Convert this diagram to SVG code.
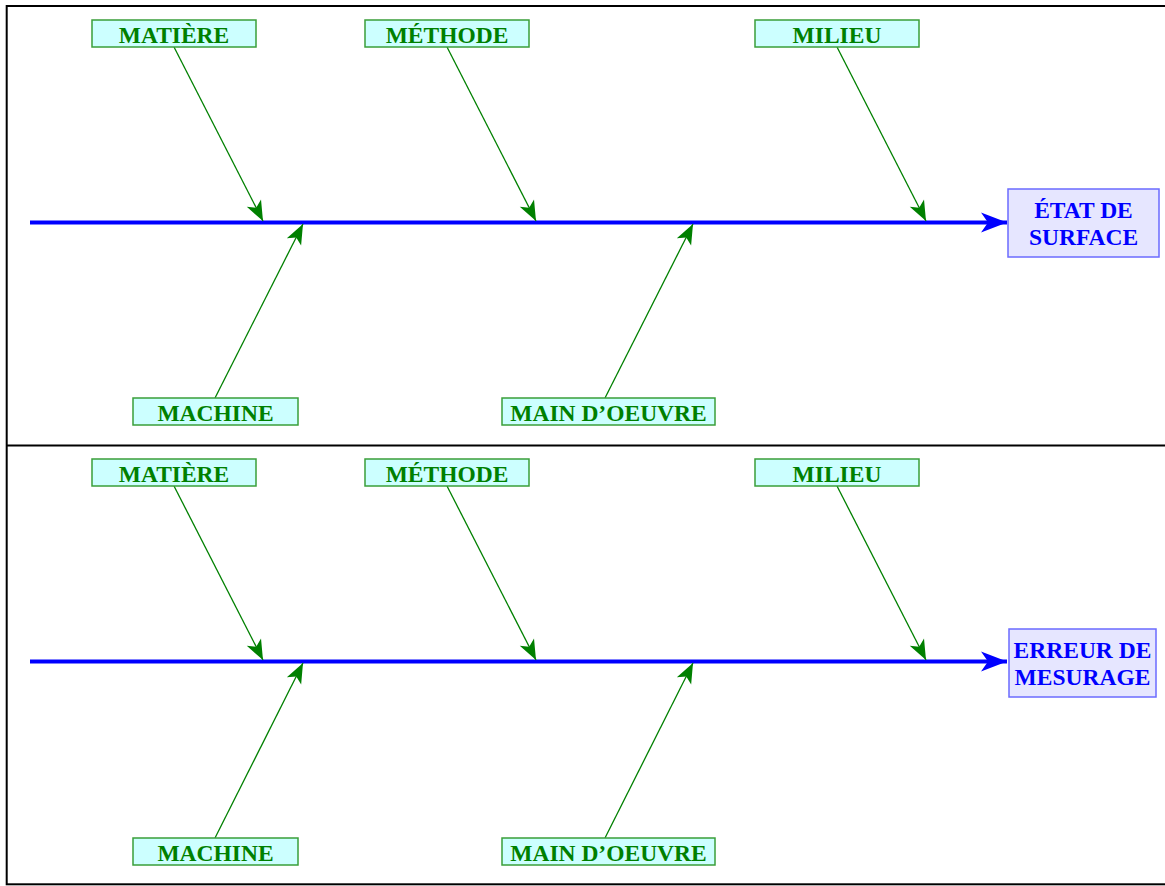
<svg xmlns="http://www.w3.org/2000/svg" width="1165" height="886" viewBox="0 0 1165 886">
<style>
.cause rect{fill:#ccffff;stroke:#3a9f3a;stroke-width:1.5}
.cause text{font-family:"Liberation Serif","Times New Roman",serif;font-weight:bold;font-size:23.5px;fill:#008000;text-anchor:middle}
.effect rect{fill:#e6e6ff;stroke:#6b6bff;stroke-width:1.5}
.effect text{font-family:"Liberation Serif","Times New Roman",serif;font-weight:bold;font-size:23.5px;fill:#0000ff;text-anchor:middle}
.bone{stroke:#008000;stroke-width:1.3;fill:none;marker-end:url(#ga)}
.spine{stroke:#0000ff;stroke-width:4;fill:none;marker-end:url(#ba)}
.frame{stroke:#000;stroke-width:2;fill:none}
</style>
<defs>
<marker id="ga" markerUnits="userSpaceOnUse" viewBox="-21 -9 22 18" refX="0" refY="0" markerWidth="22" markerHeight="18" orient="auto">
<path d="M0,0 L-20,-8 L-15,0 L-20,8 Z" fill="#008000"/>
</marker>
<marker id="ba" markerUnits="userSpaceOnUse" viewBox="-27 -11 28 22" refX="0" refY="0" markerWidth="28" markerHeight="22" orient="auto">
<path d="M0,0 L-26,-10 L-19,0 L-26,10 Z" fill="#0000ff"/>
</marker>
</defs>
<rect class="frame" x="6.7" y="6" width="1170" height="878.3"/>
<line class="frame" x1="6.7" y1="445.5" x2="1165" y2="445.5"/>
<g id="connectors">
<line class="spine" x1="30" y1="222.5" x2="1007" y2="222.5"/>
<line class="bone" x1="174" y1="47" x2="263" y2="221"/>
<line class="bone" x1="447" y1="47" x2="536" y2="221"/>
<line class="bone" x1="837" y1="47" x2="926" y2="221"/>
<line class="bone" x1="215" y1="398" x2="303" y2="224"/>
<line class="bone" x1="605" y1="398" x2="693" y2="224"/>
<line class="spine" x1="30" y1="661.5" x2="1007" y2="661.5"/>
<line class="bone" x1="174" y1="486" x2="263" y2="660"/>
<line class="bone" x1="447" y1="486" x2="536" y2="660"/>
<line class="bone" x1="837" y1="486" x2="926" y2="660"/>
<line class="bone" x1="215" y1="838" x2="303" y2="663"/>
<line class="bone" x1="605" y1="838" x2="693" y2="663"/>
</g>
<g id="matiere1" class="cause"><rect x="92" y="20" width="164" height="27"/><text x="174" y="43">MATIÈRE</text></g>
<g id="methode1" class="cause"><rect x="365" y="20" width="164" height="27"/><text x="447" y="43">MÉTHODE</text></g>
<g id="milieu1" class="cause"><rect x="755" y="20" width="164" height="27"/><text x="837" y="43">MILIEU</text></g>
<g id="machine1" class="cause"><rect x="133" y="398" width="165" height="27"/><text x="215.5" y="421">MACHINE</text></g>
<g id="mainoeuvre1" class="cause"><rect x="502" y="398" width="213" height="27"/><text x="608.5" y="421">MAIN D’OEUVRE</text></g>
<g id="etat" class="effect"><rect x="1008" y="189" width="151" height="68"/><text x="1083.5" y="218">ÉTAT DE</text><text x="1083.5" y="245">SURFACE</text></g>
<g id="matiere2" class="cause"><rect x="92" y="459" width="164" height="27"/><text x="174" y="482">MATIÈRE</text></g>
<g id="methode2" class="cause"><rect x="365" y="459" width="164" height="27"/><text x="447" y="482">MÉTHODE</text></g>
<g id="milieu2" class="cause"><rect x="755" y="459" width="164" height="27"/><text x="837" y="482">MILIEU</text></g>
<g id="machine2" class="cause"><rect x="133" y="838" width="165" height="27"/><text x="215.5" y="861">MACHINE</text></g>
<g id="mainoeuvre2" class="cause"><rect x="502" y="838" width="213" height="27"/><text x="608.5" y="861">MAIN D’OEUVRE</text></g>
<g id="erreur" class="effect"><rect x="1009" y="629" width="147" height="68"/><text x="1082.5" y="658">ERREUR DE</text><text x="1082.5" y="685">MESURAGE</text></g>
</svg>
